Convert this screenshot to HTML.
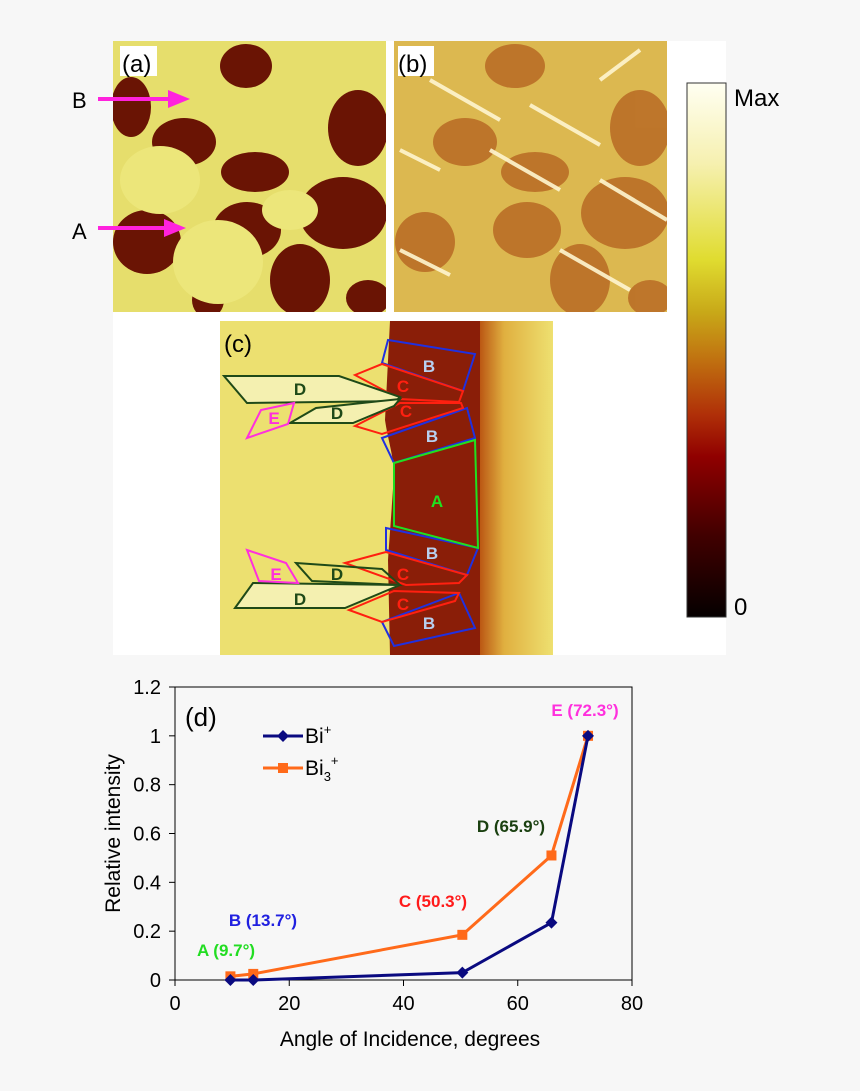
<!DOCTYPE html>
<html><head><meta charset="utf-8"><style>
body{margin:0;background:#f7f7f7;font-family:"Liberation Sans",sans-serif}
svg{display:block}
</style></head><body>
<svg width="860" height="1091" viewBox="0 0 860 1091" xmlns="http://www.w3.org/2000/svg" font-family="Liberation Sans, sans-serif">
<defs>
<linearGradient id="cb" x1="0" y1="0" x2="0" y2="1">
<stop offset="0" stop-color="#fffff2"/><stop offset="0.15" stop-color="#f6f0b0"/><stop offset="0.33" stop-color="#e0dc30"/><stop offset="0.43" stop-color="#c8a818"/><stop offset="0.52" stop-color="#c07010"/><stop offset="0.62" stop-color="#b03008"/><stop offset="0.7" stop-color="#900000"/><stop offset="0.85" stop-color="#400000"/><stop offset="1" stop-color="#050000"/>
</linearGradient>
<linearGradient id="cr" x1="0" y1="0" x2="1" y2="0">
<stop offset="0" stop-color="#b85010"/><stop offset="0.35" stop-color="#e0b040"/><stop offset="1" stop-color="#eee070"/>
</linearGradient>
<clipPath id="ca"><rect x="113" y="41" width="273" height="271"/></clipPath>
<clipPath id="cbp"><rect x="394" y="41" width="273" height="271"/></clipPath>
<clipPath id="cc"><rect x="220" y="321" width="333" height="334"/></clipPath>
</defs>
<rect x="113" y="41" width="613" height="614" fill="#ffffff"/>

<g clip-path="url(#ca)">
<rect x="113" y="41" width="273" height="271" fill="#e6de6c"/>
<g fill="#6a1404">
<ellipse cx="246" cy="66" rx="26" ry="22"/>
<ellipse cx="358" cy="128" rx="30" ry="38"/>
<ellipse cx="184" cy="142" rx="32" ry="24"/>
<ellipse cx="131" cy="107" rx="20" ry="30"/>
<ellipse cx="255" cy="172" rx="34" ry="20"/>
<ellipse cx="343" cy="213" rx="44" ry="36"/>
<ellipse cx="247" cy="230" rx="34" ry="28"/>
<ellipse cx="300" cy="280" rx="30" ry="36"/>
<ellipse cx="147" cy="242" rx="34" ry="32"/>
<ellipse cx="208" cy="300" rx="16" ry="18"/>
<ellipse cx="368" cy="298" rx="22" ry="18"/>
</g>
<g fill="#ece67a">
<ellipse cx="160" cy="180" rx="40" ry="34"/><ellipse cx="218" cy="262" rx="45" ry="42"/><ellipse cx="290" cy="210" rx="28" ry="20"/>
</g>
<rect x="120" y="46" width="37" height="30" fill="#fff"/>
</g>
<text x="122" y="72" font-size="24">(a)</text>

<g clip-path="url(#cbp)">
<rect x="394" y="41" width="273" height="271" fill="#dcb850"/>
<g fill="#b86a24" opacity="0.85">
<ellipse cx="515" cy="66" rx="30" ry="22"/><ellipse cx="640" cy="128" rx="30" ry="38"/><ellipse cx="465" cy="142" rx="32" ry="24"/>
<ellipse cx="535" cy="172" rx="34" ry="20"/><ellipse cx="625" cy="213" rx="44" ry="36"/><ellipse cx="527" cy="230" rx="34" ry="28"/>
<ellipse cx="580" cy="280" rx="30" ry="36"/><ellipse cx="425" cy="242" rx="30" ry="30"/><ellipse cx="650" cy="298" rx="22" ry="18"/>
</g>
<g stroke="#fff6d0" stroke-width="4" opacity="0.9">
<line x1="430" y1="80" x2="500" y2="120"/><line x1="530" y1="105" x2="600" y2="145"/><line x1="490" y1="150" x2="560" y2="190"/><line x1="600" y1="180" x2="667" y2="220"/>
<line x1="400" y1="150" x2="440" y2="170"/><line x1="400" y1="250" x2="450" y2="275"/><line x1="560" y1="250" x2="630" y2="290"/><line x1="600" y1="80" x2="640" y2="50"/>
</g>
<rect x="398" y="46" width="36" height="30" fill="#fff"/>
</g>
<text x="398" y="72" font-size="24">(b)</text>

<g>
<text x="72" y="108" font-size="22">B</text>
<line x1="98" y1="99" x2="172" y2="99" stroke="#ff22dd" stroke-width="4"/>
<polygon points="168,90 190,99 168,108" fill="#ff22dd"/>
</g>
<g>
<text x="72" y="239" font-size="22">A</text>
<line x1="98" y1="228" x2="168" y2="228" stroke="#ff22dd" stroke-width="4"/>
<polygon points="164,219 186,228 164,237" fill="#ff22dd"/>
</g>

<g clip-path="url(#cc)">
<rect x="220" y="321" width="333" height="334" fill="#ece070"/>
<rect x="478" y="321" width="75" height="334" fill="url(#cr)"/>
<path d="M390,321 L480,321 L480,655 L390,655 L388,560 C390,530 394,480 394,470 C392,450 388,440 385,420 Z" fill="#8a1e08"/>
</g>
<text x="224" y="352" font-size="24">(c)</text>
<g fill="none" stroke-width="2">
<g stroke="#2030e0">
<polygon points="388,340 475,354 463,391 382,363"/><polygon points="382,438 467,408 475,438 394,463"/><polygon points="386,528 478,548 467,575 386,550"/><polygon points="382,622 459,593 475,628 394,646"/>
</g>
<polygon points="394,463 475,440 478,548 394,526" stroke="#20e020"/>
<g stroke="#ff2010">
<polygon points="355,375 382,364 463,391 459,402 400,399"/><polygon points="355,426 400,403 461,403 463,408 382,434"/><polygon points="345,563 386,552 467,575 459,583 406,585"/><polygon points="349,610 394,591 459,593 455,601 382,622"/>
</g>
<g stroke="#1f4a18">
<polygon points="224,376 339,376 400,397 396,401 247,403" fill="#f4f0b0"/><polygon points="290,423 316,408 400,399 394,406 353,423" fill="#f4f0b0"/><polygon points="296,563 382,569 400,585 312,581"/><polygon points="235,608 253,583 400,585 345,608" fill="#f4f0b0"/>
</g>
<g stroke="#ff30dd">
<polygon points="247,438 261,410 294,403 288,424"/><polygon points="247,550 286,563 298,583 259,581"/>
</g>
</g>
<g font-size="17" font-weight="bold" text-anchor="middle">
<g fill="#b8d0f0"><text x="429" y="372">B</text><text x="432" y="442">B</text><text x="432" y="559">B</text><text x="429" y="629">B</text></g>
<g fill="#ff2010"><text x="403" y="392">C</text><text x="406" y="417">C</text><text x="403" y="580">C</text><text x="403" y="610">C</text></g>
<g fill="#1f4a18"><text x="300" y="395">D</text><text x="337" y="419">D</text><text x="337" y="580">D</text><text x="300" y="605">D</text></g>
<g fill="#ff30dd"><text x="274" y="424">E</text><text x="276" y="580">E</text></g>
<text x="437" y="507" fill="#20e020">A</text>
</g>

<rect x="687" y="83" width="39" height="534" fill="url(#cb)" stroke="#333" stroke-width="1"/>
<text x="734" y="106" font-size="24">Max</text>
<text x="734" y="615" font-size="24">0</text>

<g id="chart"></g>
</svg>
<script>
const xTicks=[0,20,40,60,80];
const yTicks=[0,0.2,0.4,0.6,0.8,1,1.2];
const yTickLabels=["0","0.2","0.4","0.6","0.8","1","1.2"];
const angles=[9.7,13.7,50.3,65.9,72.3];
const biValues=[0,0,0.03,0.235,1];
const bi3Values=[0.015,0.025,0.185,0.51,1];
const annotLabels=["A (9.7°)","B (13.7°)","C (50.3°)","D (65.9°)","E (72.3°)"];

const NS="http://www.w3.org/2000/svg";
const L=175,R=632,T=687,B=980;
const sx=v=>L+(v-0)/(80-0)*(R-L);
const sy=v=>B-(v-0)/(1.2-0)*(B-T);
const g=document.getElementById('chart');
function mk(tag,at,parent){const e=document.createElementNS(NS,tag);for(const k in at)e.setAttribute(k,at[k]);(parent||g).appendChild(e);return e;}

let frame=mk('rect',{x:L,y:T,width:R-L,height:B-T,fill:'none',stroke:'#000','stroke-width':1});


xTicks.forEach(v=>{
  const t=mk('line',{x1:sx(v),x2:sx(v),y1:B,y2:B+6,stroke:'#000'});
  
  
  const l=mk('text',{x:sx(v),y:B+30,'font-size':20,'text-anchor':'middle'});l.textContent=v;
  
  
});
yTicks.forEach((v,i)=>{
  const t=mk('line',{x1:L-6,x2:L,y1:sy(v),y2:sy(v),stroke:'#000'});
  
  
  const l=mk('text',{x:L-14,y:sy(v)+7,'font-size':20,'text-anchor':'end'});l.textContent=yTickLabels[i];
  
  
});
const xt=mk('text',{x:410,y:1046,'font-size':21,'text-anchor':'middle'});xt.textContent='Angle of Incidence, degrees';


const yt=mk('text',{x:0,y:0,'font-size':21,'text-anchor':'middle',transform:`translate(120,${(T+B)/2}) rotate(-90)`});yt.textContent='Relative intensity';


const pd=mk('text',{x:185,y:726,'font-size':26});pd.textContent='(d)';



function series(vals,color,shape,name){
  const p=mk('polyline',{points:angles.map((a,i)=>sx(a)+','+sy(vals[i])).join(' '),fill:'none',stroke:color,'stroke-width':3});
  
  
  angles.forEach((a,i)=>{
    const x=sx(a),y=sy(vals[i]);let m;
    if(shape==='d')m=mk('polygon',{points:`${x},${y-6} ${x+6},${y} ${x},${y+6} ${x-6},${y}`,fill:color});
    else m=mk('rect',{x:x-5,y:y-5,width:10,height:10,fill:color});
    
    
  });
}
series(bi3Values,'#ff6a1a','s','bi3');
series(biValues,'#0a0a80','d','bi');

const lg=mk('g',{});


mk('line',{x1:263,x2:303,y1:736,y2:736,stroke:'#0a0a80','stroke-width':3},lg);
mk('polygon',{points:'283,730 289,736 283,742 277,736',fill:'#0a0a80'},lg);
const t1=mk('text',{x:305,y:743,'font-size':21},lg);t1.innerHTML='Bi<tspan dy="-9" font-size="13">+</tspan>';
mk('line',{x1:263,x2:303,y1:768,y2:768,stroke:'#ff6a1a','stroke-width':3},lg);
mk('rect',{x:278,y:763,width:10,height:10,fill:'#ff6a1a'},lg);
const t2=mk('text',{x:305,y:775,'font-size':21},lg);t2.innerHTML='Bi<tspan dy="6" font-size="13">3</tspan><tspan dy="-16" font-size="13">+</tspan>';

const aColors=['#22dd22','#2020e0','#ff1a1a','#1a4010','#ff30dd'];
const aPos=[[226,956],[263,926],[433,907],[511,832],[585,716]];
annotLabels.forEach((s,i)=>{
  const t=mk('text',{x:aPos[i][0],y:aPos[i][1],'font-size':17,'font-weight':'bold',fill:aColors[i],'text-anchor':'middle'});
  t.textContent=s;
  
  
});
</script>
</body></html>
